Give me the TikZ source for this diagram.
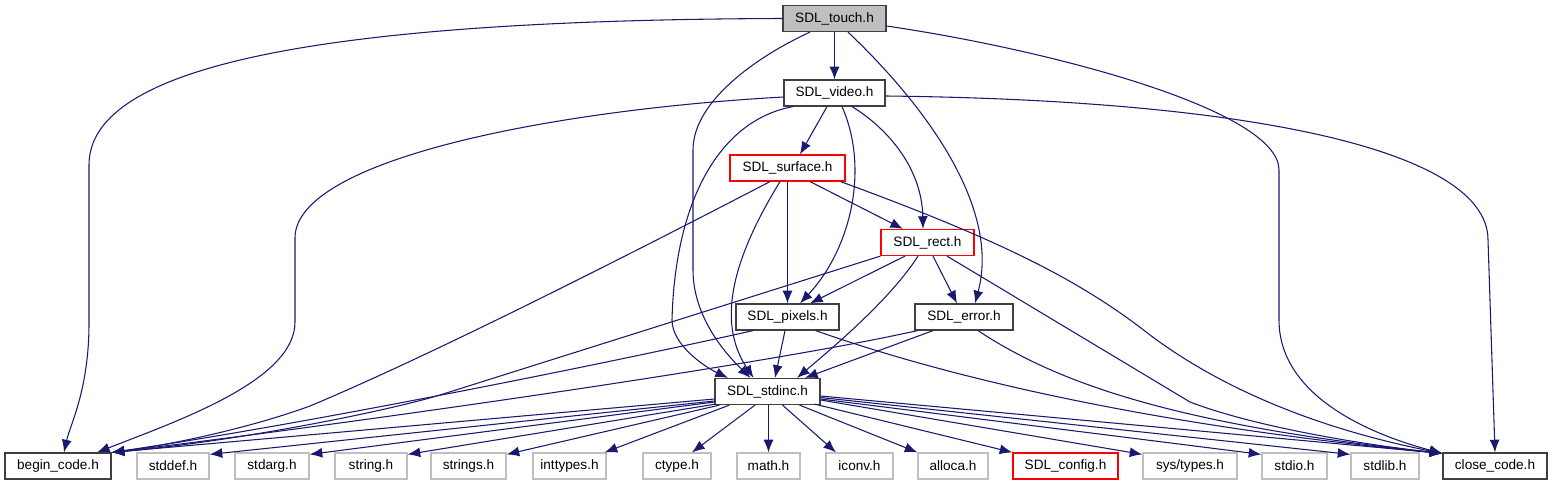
\documentclass[tikz,border=0pt]{standalone}
\usepackage{fontspec}
\setmainfont{Liberation Sans}
\usetikzlibrary{calc,arrows.meta}
\definecolor{edgecol}{HTML}{191970}
\definecolor{graybd}{HTML}{BFBFBF}
\definecolor{darkbd}{HTML}{404040}
\tikzset{
  box/.style={draw=darkbd, line width=0.9pt, fill=white, inner sep=0pt,
    minimum height=19.5pt, font=\fontsize{10.2}{12}\selectfont},
  gbox/.style={box, draw=graybd},
  rbox/.style={box, draw=red},
  wd/.style={minimum width=#1*0.75pt},
  dep/.style={draw=edgecol, line width=0.8pt, -{Latex[length=9.5pt,width=7.5pt]}},
}
\begin{document}
\begin{tikzpicture}[x=0.75pt,y=-0.75pt]
\useasboundingbox (0,0) rectangle (1552,485);
% nodes
\node[box,wd=103,fill=graybd] (touch) at (834.5,18.5) {SDL\_touch.h};
\node[box,wd=101] (video) at (834.5,93) {SDL\_video.h};
\node[rbox,wd=115] (surface) at (787.5,168) {SDL\_surface.h};
\node[rbox,wd=93] (rect) at (927.5,242.5) {SDL\_rect.h};
\node[box,wd=103] (pixels) at (787.5,317) {SDL\_pixels.h};
\node[box,wd=98] (error) at (964,317) {SDL\_error.h};
\node[box,wd=105] (stdinc) at (767.5,391.5) {SDL\_stdinc.h};
\node[box,wd=106] (begin) at (58,466) {begin\_code.h};
\node[gbox,wd=72] (stddef) at (173,466) {stddef.h};
\node[gbox,wd=74] (stdarg) at (272,466) {stdarg.h};
\node[gbox,wd=72] (string) at (371,466) {string.h};
\node[gbox,wd=75] (strings) at (468.5,466) {strings.h};
\node[gbox,wd=73] (inttypes) at (569.5,466) {inttypes.h};
\node[gbox,wd=68] (ctype) at (677,466) {ctype.h};
\node[gbox,wd=63] (math) at (768.5,466) {math.h};
\node[gbox,wd=67] (iconv) at (859.5,466) {iconv.h};
\node[gbox,wd=70] (alloca) at (953,466) {alloca.h};
\node[rbox,wd=105] (config) at (1065.5,466) {SDL\_config.h};
\node[gbox,wd=94] (systypes) at (1190,466) {sys/types.h};
\node[gbox,wd=65] (stdio) at (1294.5,466) {stdio.h};
\node[gbox,wd=68] (stdlib) at (1385,466) {stdlib.h};
\node[box,wd=104] (close) at (1495,466) {close\_code.h};

% SDL_touch.h
\draw[dep] (touch.west) .. controls (300,20) and (89,70) .. (89,165) -- (89,323)
  .. controls (89,390) and (70,425) .. ($(begin.north)+(6,0)$);
\draw[dep] (touch.south) -- (video.north);
\draw[dep] ($(touch.south)+(-24.5,0)$) .. controls (760,55) and (693,100) .. (693,150) -- (693,270)
  .. controls (693,320) and (730,358) .. ($(stdinc.north)+(-17,0)$);
\draw[dep] ($(touch.south)+(13.5,0)$) .. controls (930,110) and (1000,210) .. ($(error.north)+(11,0)$);
\draw[dep] ($(touch.east)+(0,7.5)$) .. controls (1050,50) and (1279,110) .. (1279,170) -- (1279,320)
  .. controls (1279,400) and (1380,437) .. ($(close.north west)+(0,1)$);

% SDL_video.h
\draw[dep] ($(video.west)+(0,4)$) .. controls (550,110) and (295,160) .. (295,238) -- (295,322)
  .. controls (295,380) and (180,420) .. ($(begin.north)+(39,0)$);
\draw[dep] ($(video.south)+(-7.5,0)$) -- ($(surface.north)+(12.5,0)$);
\draw[dep] ($(video.south)+(-41.5,0)$) .. controls (720,120) and (675,200) .. (672,320)
  .. controls (672,345) and (705,367) .. ($(stdinc.north)+(-39.5,0)$);
\draw[dep] ($(video.south)+(7.5,0)$) .. controls (870,170) and (850,250) .. ($(pixels.north)+(12.5,0)$);
\draw[dep] ($(video.south)+(17.5,0)$) .. controls (890,130) and (922,170) .. ($(rect.north)+(-4.5,0)$);
\draw[dep] ($(video.east)+(0,3)$) .. controls (1250,100) and (1488,150) .. (1488,240) -- (close.north);

% SDL_surface.h
\draw[dep] ($(surface.south)+(-17.5,0)$) .. controls (600,270) and (420,360) .. (310,406)
  .. controls (250,428) and (170,445) .. (begin.north east);
\draw[dep] (surface.south) -- (pixels.north);
\draw[dep] ($(surface.south)+(-7.5,0)$) .. controls (735,255) and (715,320) .. ($(stdinc.north)+(-14,0)$);
\draw[dep] ($(surface.south)+(22.5,0)$) -- ($(rect.north)+(-24.5,0)$);
\draw[dep] ($(surface.south east)+(-5,0)$) .. controls (1000,240) and (1080,280) .. (1150,335)
  .. controls (1210,380) and (1300,425) .. ($(close.north west)+(0,1)$);

% SDL_rect.h
\draw[dep] (rect.south west) -- (440,395) .. controls (380,413) and (230,442) .. (begin.north east);
\draw[dep] ($(rect.south)+(-22.5,0)$) -- ($(pixels.north)+(22.5,0)$);
\draw[dep] ($(rect.south)+(-9.5,0)$) .. controls (890,300) and (830,350) .. ($(stdinc.north)+(29.5,0)$);
\draw[dep] ($(rect.south)+(5.5,0)$) -- ($(error.north)+(-7,0)$);
\draw[dep] ($(rect.south)+(19.5,0)$) -- (1190,402) .. controls (1250,425) and (1350,443) .. ($(close.north west)+(0,1)$);

% SDL_pixels.h
\draw[dep] ($(pixels.south)+(-34.5,0)$) .. controls (600,365) and (300,425) .. (begin.north east);
\draw[dep] ($(pixels.south)+(-2.5,0)$) -- ($(stdinc.north)+(7.5,0)$);
\draw[dep] ($(pixels.south east)+(-24,0)$) .. controls (950,378) and (1150,425) .. ($(close.north west)+(0,1)$);

% SDL_error.h
\draw[dep] ($(error.south west)+(3,0)$) .. controls (750,368) and (300,430) .. (begin.north east);
\draw[dep] ($(error.south)+(-31,0)$) -- ($(stdinc.north)+(37.5,0)$);
\draw[dep] ($(error.south)+(14,0)$) .. controls (1060,385) and (1180,425) .. ($(close.north west)+(0,1)$);

% SDL_stdinc.h
\draw[dep] ($(stdinc.west)+(0,7.5)$) -- (begin.north east);
\draw[dep] ($(stdinc.west)+(0,9.5)$) -- ($(stddef.north east)+(0,2)$);
\draw[dep] ($(stdinc.west)+(0,10.5)$) -- ($(stdarg.north east)+(0,2)$);
\draw[dep] ($(stdinc.south west)+(1,-1)$) -- ($(string.north east)+(0,2)$);
\draw[dep] ($(stdinc.south west)+(5,0)$) -- ($(strings.north east)+(0,2)$);
\draw[dep] ($(stdinc.south west)+(15,0)$) -- ($(inttypes.north east)+(-2,0)$);
\draw[dep] ($(stdinc.south)+(-12.5,0)$) -- ($(ctype.north)+(15,0)$);
\draw[dep] ($(stdinc.south)+(1,0)$) -- (math.north);
\draw[dep] ($(stdinc.south)+(15,0)$) -- ($(iconv.north)+(-23.5,0)$);
\draw[dep] ($(stdinc.south)+(32,0)$) -- (alloca.north west);
\draw[dep] ($(stdinc.south east)+(-6,-1)$) -- (config.north west);
\draw[dep] ($(stdinc.east)+(0,8.5)$) -- ($(systypes.north west)+(0,2)$);
\draw[dep] ($(stdinc.east)+(0,7.5)$) -- ($(stdio.north west)+(0,2)$);
\draw[dep] ($(stdinc.east)+(0,6)$) -- ($(stdlib.north west)+(0,2)$);
\draw[dep] ($(stdinc.east)+(0,4.5)$) -- ($(close.north west)+(0,1)$);
\end{tikzpicture}
\end{document}
